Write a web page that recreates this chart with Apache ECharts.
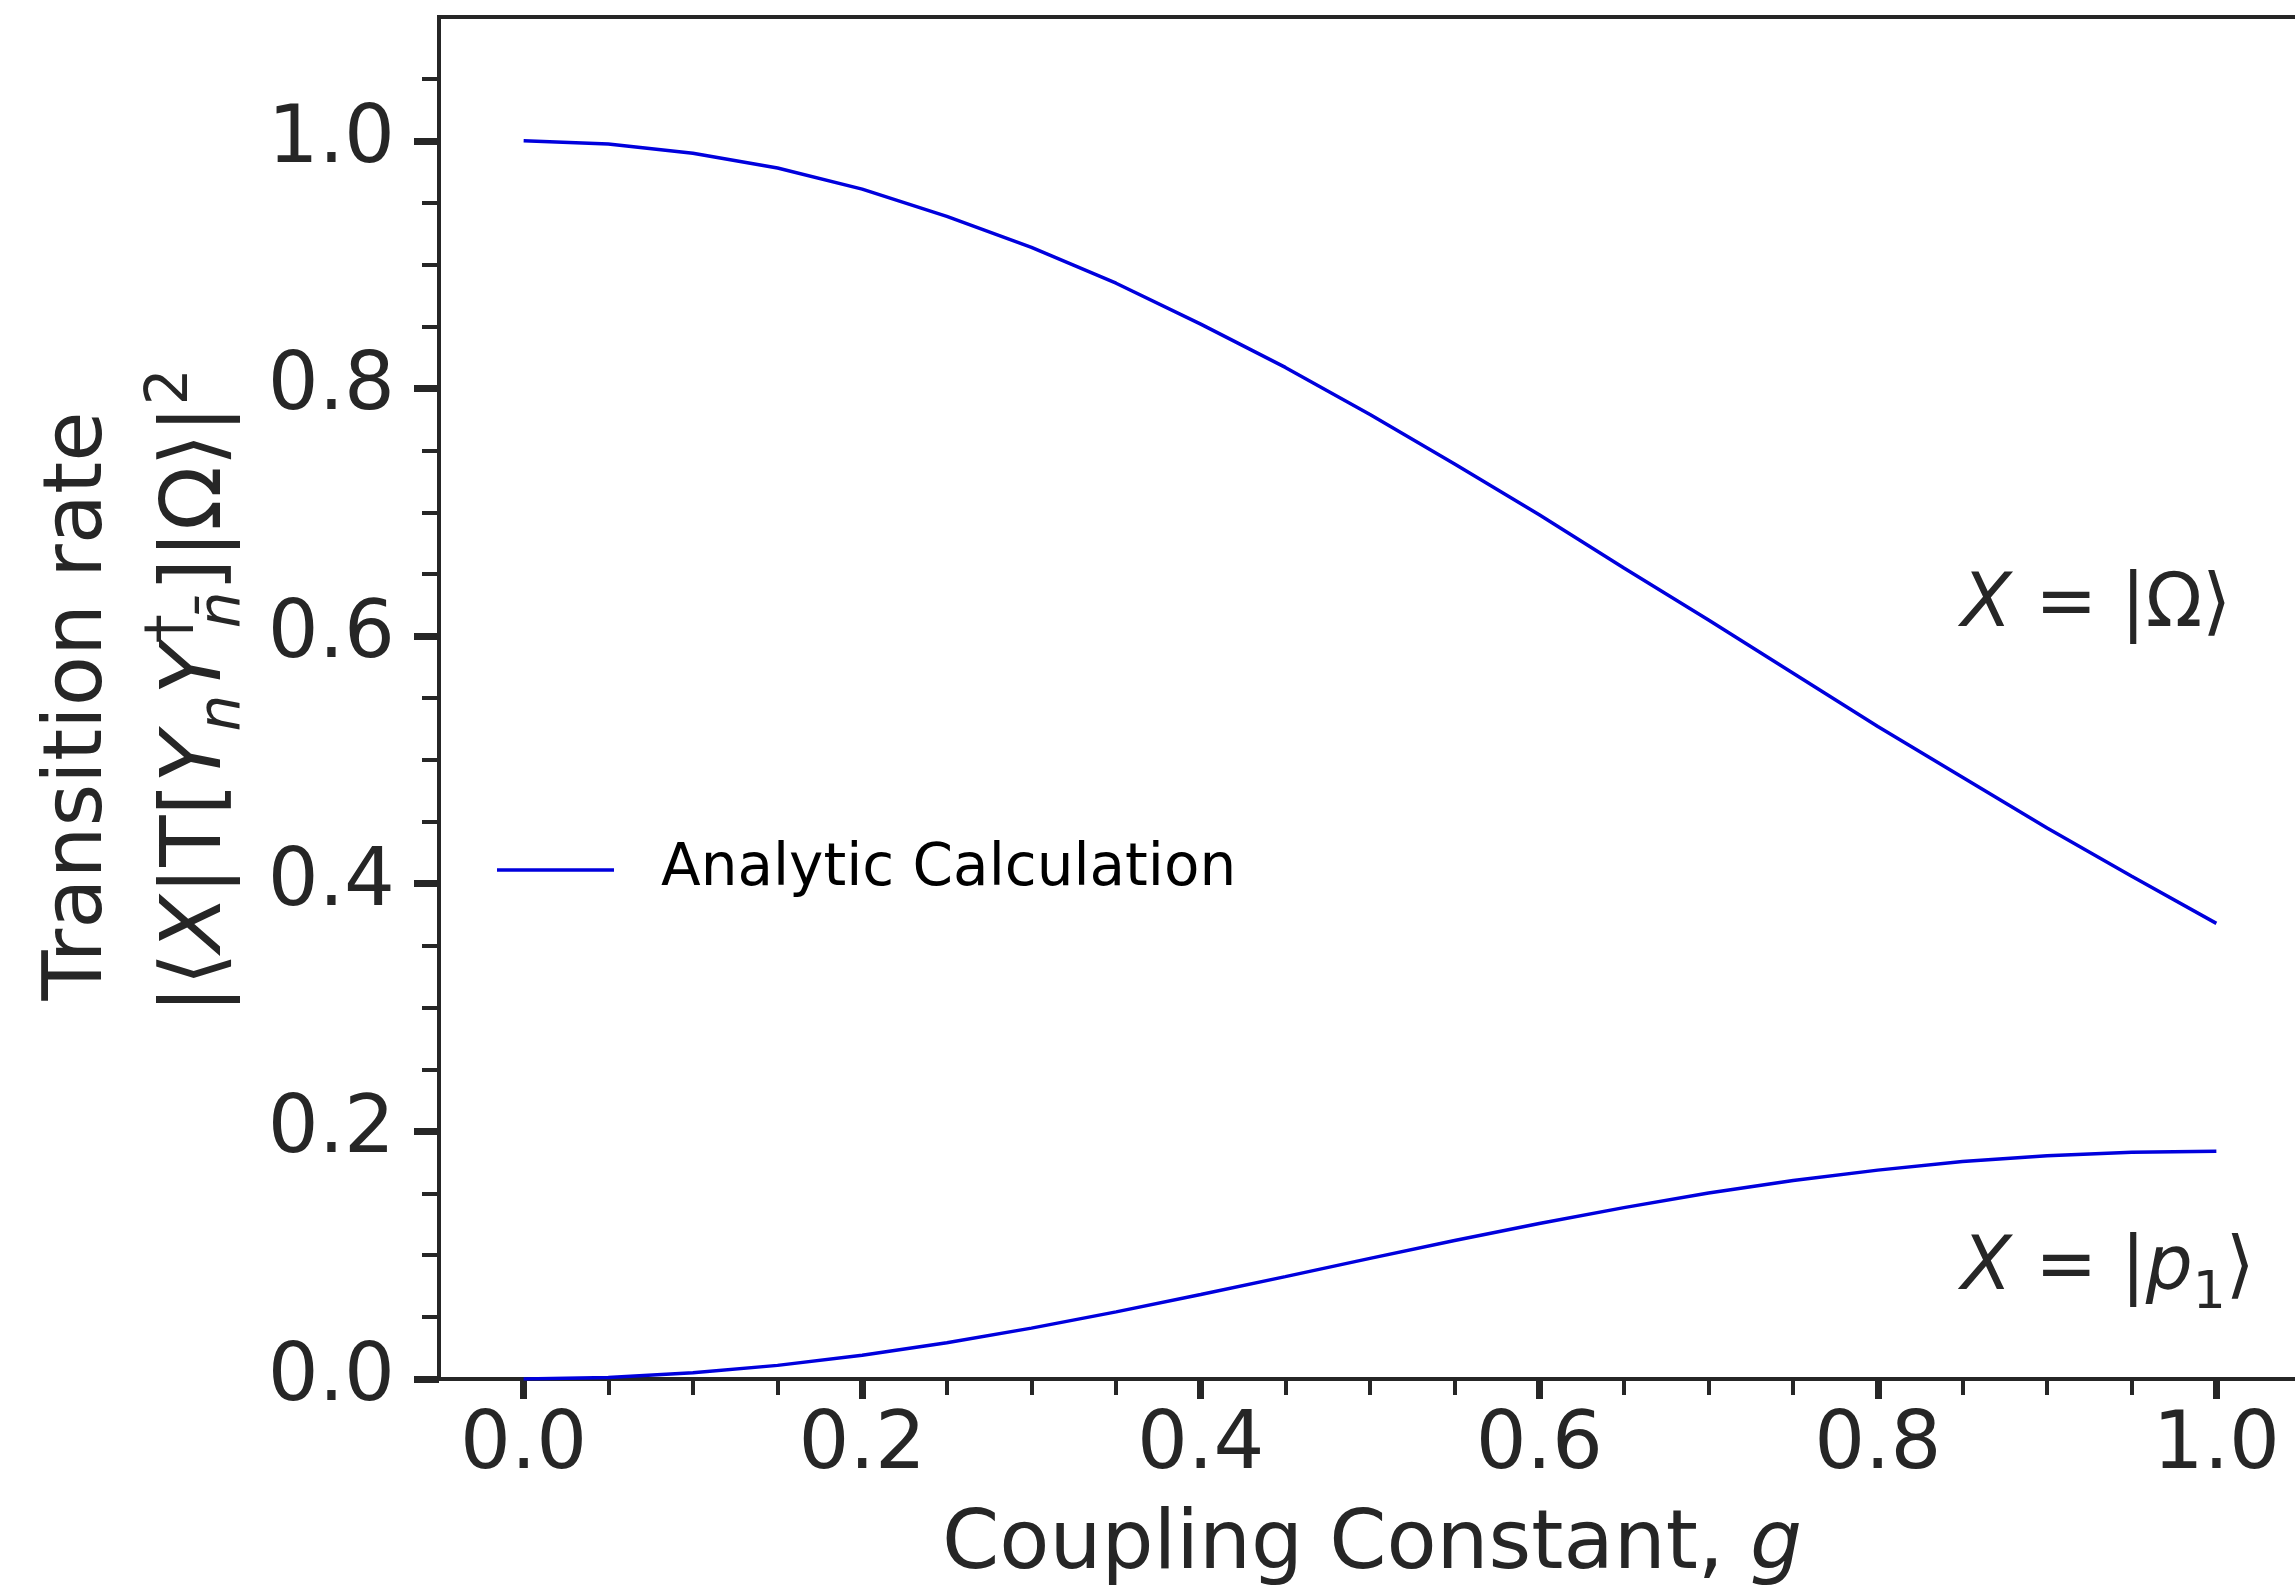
<!DOCTYPE html>
<html>
<head>
<meta charset="utf-8">
<script src="https://cdn.jsdelivr.net/npm/echarts@6/dist/echarts.min.js"></script>
<style>
html,body{margin:0;padding:0;background:#fff;}
#chart{width:2295px;height:1596px;}
</style>
</head>
<body>
<div id="chart"></div>
<script>
// ---- data ----
const gValues = [0.00,0.05,0.10,0.15,0.20,0.25,0.30,0.35,0.40,0.45,0.50,0.55,0.60,0.65,0.70,0.75,0.80,0.85,0.90,0.95,1.00];
const omegaRate = [1.000,0.9975,0.990,0.978,0.961,0.939,0.914,0.885,0.852,0.817,0.779,0.739,0.698,0.655,0.613,0.570,0.527,0.486,0.445,0.406,0.368];
const p1Rate = [0.000,0.0012,0.0050,0.0110,0.0192,0.0293,0.0411,0.0542,0.0682,0.0827,0.0974,0.1118,0.1256,0.1384,0.1502,0.1603,0.1687,0.1756,0.1803,0.1832,0.1840];
const xMajorTicks = [0.0,0.2,0.4,0.6,0.8,1.0];
const xMinorTicks = [0.05,0.10,0.15,0.25,0.30,0.35,0.45,0.50,0.55,0.65,0.70,0.75,0.85,0.90,0.95];
const yMajorTicks = [0.0,0.2,0.4,0.6,0.8,1.0];
const yMinorTicks = [0.05,0.10,0.15,0.25,0.30,0.35,0.45,0.50,0.55,0.65,0.70,0.75,0.85,0.90,0.95,1.05];
const seriesName = 'Analytic Calculation';
const xTitle = 'Coupling Constant, ';
const yTitle1 = 'Transition rate';
const labelOmega = ' = |Ω⟩';
const labelP1Pre = ' = |';

const TXT = '#262626';
const FONT = 'DejaVu Sans';
const LINE = '#0000dd';

const chart = echarts.init(document.getElementById('chart'), null, {renderer:'canvas'});

const omegaData = gValues.map((g,i)=>[g, omegaRate[i]]);
const p1Data = gValues.map((g,i)=>[g, p1Rate[i]]);

const fmt = v => Number(v).toFixed(1);

const option = {
  backgroundColor: '#ffffff',
  animation: false,
  grid: {
    left: 439, top: 17, width: 1862, height: 1362,
    outerBoundsMode: 'none', containLabel: false,
    show: true, borderColor: TXT, borderWidth: 4, backgroundColor: 'transparent'
  },
  legend: {
    data: [{name: seriesName, icon: 'rect'}],
    left: 492, top: 830,
    itemWidth: 117, itemHeight: 3.5,
    textStyle: {fontFamily: FONT, fontSize: 58, color: '#000', padding: [0,0,0,42], lineHeight: 70}
  },
  xAxis: [
    {
      type: 'value', min: -0.05, max: 1.05, position: 'bottom',
      axisLine: {show: true, onZero: false, lineStyle: {color: TXT, width: 4}},
      axisTick: {show: true, customValues: xMajorTicks, length: 20, lineStyle: {color: TXT, width: 7}},
      axisLabel: {show: true, customValues: xMajorTicks, formatter: fmt, margin: 68, verticalAlign: 'middle',
                  fontFamily: FONT, fontSize: 80, color: TXT},
      splitLine: {show: false}
    },
    {
      type: 'value', min: -0.05, max: 1.05, position: 'bottom', gridIndex: 0,
      axisLine: {show: false, onZero: false},
      axisTick: {show: true, customValues: xMinorTicks, length: 16, lineStyle: {color: TXT, width: 4}},
      axisLabel: {show: false},
      splitLine: {show: false}
    }
  ],
  yAxis: [
    {
      type: 'value', min: 0, max: 1.1, position: 'left',
      axisLine: {show: true, onZero: false, lineStyle: {color: TXT, width: 4}},
      axisTick: {show: true, customValues: yMajorTicks, length: 25, lineStyle: {color: TXT, width: 7}},
      axisLabel: {show: true, customValues: yMajorTicks, formatter: fmt, margin: 44,
                  fontFamily: FONT, fontSize: 80, color: TXT},
      splitLine: {show: false}
    },
    {
      type: 'value', min: 0, max: 1.1, position: 'left', gridIndex: 0,
      axisLine: {show: false, onZero: false},
      axisTick: {show: true, customValues: yMinorTicks, length: 17, lineStyle: {color: TXT, width: 4}},
      axisLabel: {show: false},
      splitLine: {show: false}
    }
  ],
  series: [
    {name: seriesName, type: 'line', data: omegaData, xAxisIndex: 0, yAxisIndex: 0,
     symbol: 'none', smooth: false, lineStyle: {color: LINE, width: 3.5}, itemStyle: {color: LINE}},
    {name: seriesName, type: 'line', data: p1Data, xAxisIndex: 0, yAxisIndex: 0,
     symbol: 'none', smooth: false, lineStyle: {color: LINE, width: 3.5}, itemStyle: {color: LINE}}
  ],
  graphic: [
    {
      type: 'text', x: 1372, y: 1547,
      style: {
        text: '{n|' + xTitle + '}{i|g}',
        textAlign: 'center', textVerticalAlign: 'middle',
        rich: {
          n: {fontFamily: FONT, fontSize: 82, fill: TXT},
          i: {fontFamily: FONT, fontSize: 82, fontStyle: 'italic', fill: TXT}
        }
      }
    },
    {
      type: 'text', x: 80, y: 706, rotation: Math.PI/2,
      style: {
        text: yTitle1, textAlign: 'center', textVerticalAlign: 'middle',
        fontFamily: FONT, fontSize: 82, fill: TXT
      }
    },
    {
      type: 'text', x: 198, y: 691, rotation: Math.PI/2,
      style: {
        text: '{n||⟨}{i|X}{n||T[}{i|Y}{sub|n}{i|Y}{sup|†}{sub|n̄}{n|]|Ω⟩|}{sup2|2}',
        textAlign: 'center', textVerticalAlign: 'middle',
        rich: {
          n: {fontFamily: FONT, fontSize: 84, fill: TXT, lineHeight: 110},
          i: {fontFamily: FONT, fontSize: 84, fontStyle: 'italic', fill: TXT, lineHeight: 110},
          sub: {fontFamily: FONT, fontSize: 58, fontStyle: 'italic', fill: TXT, verticalAlign: 'bottom', lineHeight: 62},
          sup: {fontFamily: FONT, fontSize: 58, fill: TXT, verticalAlign: 'top', lineHeight: 62, width: 1, align: 'left', padding: [0,0,0,14]},
          sup2: {fontFamily: FONT, fontSize: 58, fill: TXT, verticalAlign: 'top', lineHeight: 62}
        }
      }
    },
    {
      type: 'text', x: 1961, y: 607,
      style: {
        text: '{i|X}{n|' + labelOmega + '}',
        textAlign: 'left', textVerticalAlign: 'middle',
        rich: {
          n: {fontFamily: FONT, fontSize: 74, fill: TXT},
          i: {fontFamily: FONT, fontSize: 74, fontStyle: 'italic', fill: TXT}
        }
      }
    },
    {
      type: 'text', x: 1961, y: 1270,
      style: {
        text: '{i|X}{n|' + labelP1Pre + '}{i|p}{sub|1}{n|⟩}',
        textAlign: 'left', textVerticalAlign: 'middle',
        rich: {
          n: {fontFamily: FONT, fontSize: 74, fill: TXT, lineHeight: 100},
          i: {fontFamily: FONT, fontSize: 74, fontStyle: 'italic', fill: TXT, lineHeight: 100},
          sub: {fontFamily: FONT, fontSize: 52, fill: TXT, verticalAlign: 'bottom', lineHeight: 70}
        }
      }
    }
  ]
};
chart.setOption(option);
</script>
</body>
</html>
